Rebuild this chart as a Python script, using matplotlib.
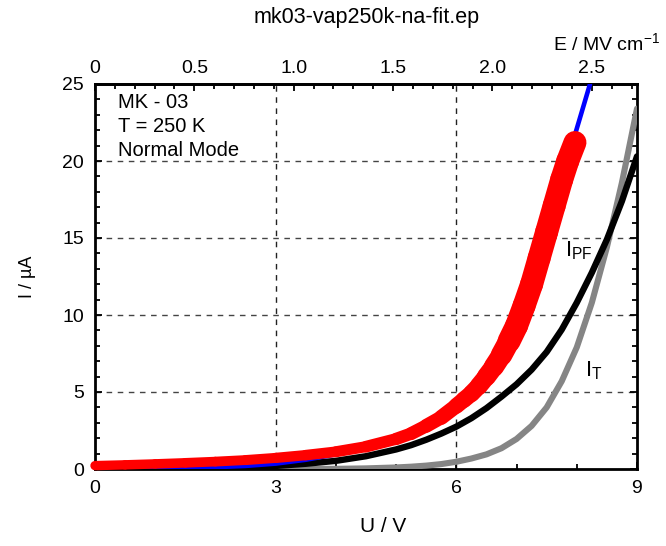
import numpy as np
import matplotlib
matplotlib.use("Agg")
import matplotlib.pyplot as plt
from matplotlib.collections import LineCollection

plt.rcParams["font.family"] = ["Liberation Sans", "DejaVu Sans"]
plt.rcParams["mathtext.fontset"] = "custom"
plt.rcParams["mathtext.rm"] = "Liberation Sans"
plt.rcParams["mathtext.it"] = "Liberation Sans"

# measured I-U curve (sample MK-03, 250 K)
u_meas = [0, 0.5, 1, 1.5, 2, 2.5, 3, 3.5, 4, 4.5, 5, 5.25, 5.5, 5.75, 6.0,
          6.125, 6.25, 6.375, 6.5, 6.625, 6.75, 6.875, 7.0, 7.125, 7.25,
          7.375, 7.5, 7.625, 7.75, 7.85, 7.97]
i_meas = [0.22, 0.27, 0.33, 0.4, 0.48, 0.58, 0.72, 0.9, 1.12, 1.45, 1.95,
          2.3, 2.8, 3.35, 4.1, 4.5, 4.9, 5.4, 6.0, 6.65, 7.4, 8.3, 9.3,
          10.6, 12.0, 13.7, 15.4, 17.1, 18.8, 20.0, 21.2]

# total fit
u_fit = [0, 0.5, 1, 1.5, 2, 2.5, 3, 3.5, 4, 4.5, 5, 5.5, 6, 6.5, 7, 7.5,
         7.84, 8.0, 8.22]
i_fit = [0, 0.01, 0.03, 0.06, 0.12, 0.2, 0.35, 0.6, 0.95, 1.4, 2.0, 2.85,
         4.1, 6.0, 9.3, 15.3, 20.0, 22.1, 25.0]

# Poole-Frenkel contribution
u_pf = [0, 0.5, 1, 1.5, 2, 2.5, 3, 3.5, 4, 4.5, 5, 5.25, 5.5, 5.75, 6.0,
        6.25, 6.5, 6.75, 7.0, 7.25, 7.5, 7.75, 8.0, 8.25, 8.5, 8.75, 9.0]
i_pf = [0, 0.003, 0.01, 0.025, 0.05, 0.11, 0.2, 0.34, 0.53, 0.83, 1.27,
        1.55, 1.9, 2.3, 2.75, 3.3, 3.95, 4.7, 5.5, 6.45, 7.6, 9.05, 10.8,
        12.75, 14.9, 17.4, 20.3]

# tunnelling contribution
u_t = [0, 3, 4, 4.5, 5, 5.25, 5.5, 5.75, 6.0, 6.25, 6.5, 6.75, 7.0, 7.25,
       7.5, 7.75, 8.0, 8.25, 8.5, 8.75, 9.0]
i_t = [0, 0.0, 0.01, 0.04, 0.1, 0.15, 0.22, 0.32, 0.47, 0.68, 0.95, 1.35,
       1.95, 2.8, 4.0, 5.7, 7.9, 10.8, 14.4, 18.6, 23.4]

u_ticks = [0, 3, 6, 9]
i_ticks = [0, 5, 10, 15, 20, 25]
e_ticks = [0, 0.5, 1.0, 1.5, 2.0, 2.5]
e_ticklabels = ["0", "0.5", "1.0", "1.5", "2.0", "2.5"]
thickness_nm = 33.0  # film thickness used for the field scale

W, H = 666, 546
fig = plt.figure(figsize=(W / 100, H / 100), dpi=100)
ax = fig.add_axes([95 / W, 1 - 469 / H, (637 - 95) / W, (469 - 84) / H])
ax.set_xlim(0, 9)
ax.set_ylim(0, 25)

# grid
for u in (3, 6):
    ax.plot([u, u], [0, 25], color="#222222", lw=1.0, ls=(0, (4, 4)), zorder=1)
for i in (5, 10, 15, 20):
    ax.plot([0, 9], [i, i], color="#444444", lw=1.0, ls=(0, (4, 4)), zorder=1)

ax.plot(u_t, i_t, color="#858585", lw=4.4, solid_capstyle="round",
        solid_joinstyle="round", zorder=3)
ax.plot(u_pf, i_pf, color="black", lw=4.6, solid_capstyle="round",
        solid_joinstyle="round", zorder=4)
ax.plot(u_fit, i_fit, color="#0000ff", lw=3.3, solid_capstyle="round",
        solid_joinstyle="round", zorder=5)

# measured data as a band whose spread grows with the current
pts = np.column_stack([u_meas, i_meas])
segs = np.stack([pts[:-1], pts[1:]], axis=1)
i_mid = 0.5 * (pts[:-1, 1] + pts[1:, 1])
widths = np.minimum(9 + 1.6 * i_mid, 23) * 72 / 100
lc = LineCollection(segs, colors="#ff0000", linewidths=widths,
                    capstyle="round", joinstyle="round", zorder=6)
lc.set_clip_on(False)
ax.add_collection(lc)

# ticks and spines
ax.set_xticks(u_ticks)
ax.set_xticks(np.arange(0, 9.01, 1), minor=True)
ax.set_yticks(i_ticks)
ax.set_yticks(np.arange(0, 25.01, 1), minor=True)
ax.tick_params(which="both", direction="in", right=True, top=False,
               width=1.3, labelsize=14)
ax.tick_params(which="major", length=5)
ax.tick_params(which="minor", length=3.5)
ax.tick_params(axis="x", pad=8)
ax.tick_params(axis="y", pad=8)
for s in ax.spines.values():
    s.set_linewidth(2.0)

k = 10.0 / thickness_nm
sec = ax.secondary_xaxis("top", functions=(lambda u: u * k, lambda e: e / k))
sec.set_xticks(e_ticks)
sec.set_xticklabels(e_ticklabels)
sec.set_xticks(np.arange(0, 2.75, 0.1), minor=True)
sec.tick_params(which="both", direction="in", width=1.3, labelsize=14, pad=5)
sec.tick_params(which="major", length=5)
sec.tick_params(which="minor", length=3.5)
sec.spines["top"].set_linewidth(2.0)

# labels
fig.text(367 / W, 1 - 17 / H, "mk03-vap250k-na-fit.ep", ha="center",
         va="center", fontsize=15.5)
fig.text(606 / W, 1 - 43 / H, r"E / MV cm$^{\mathregular{-1}}$", ha="center",
         va="center", fontsize=14)
fig.text(383 / W, 1 - 526 / H, "U / V", ha="center", va="center", fontsize=15)
fig.text(27 / W, 1 - 277 / H, "I / \u00b5A", ha="center", va="center",
         rotation=90, fontsize=13)

ax.text(0.38, 23.8, "MK - 03", fontsize=14.5, va="center", ha="left")
ax.text(0.38, 22.25, "T = 250 K", fontsize=14.5, va="center", ha="left")
ax.text(0.38, 20.7, "Normal Mode", fontsize=14.5, va="center", ha="left")
ax.text(7.8, 14.2, r"$\mathregular{I_{PF}}$", fontsize=16, va="center",
        ha="left")
ax.text(8.13, 6.4, r"$\mathregular{I_{T}}$", fontsize=16, va="center",
        ha="left")

fig.savefig("out.png", dpi=100)
